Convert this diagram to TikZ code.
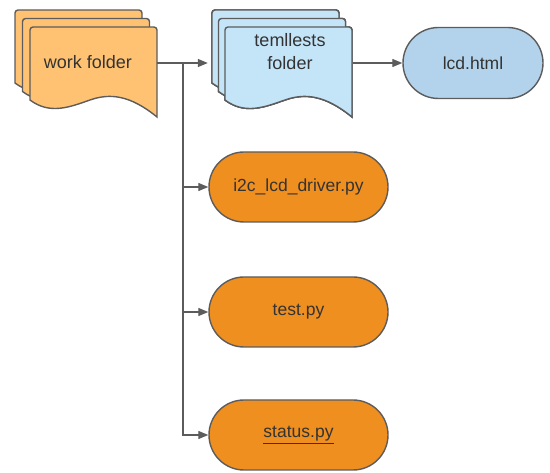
\documentclass[tikz,border=0pt]{standalone}
\usepackage{fontspec}
\setmainfont{Liberation Sans}
\usetikzlibrary{arrows.meta, shapes.misc}

\definecolor{edgegray}{HTML}{5C5C5C}
\definecolor{textgray}{HTML}{333333}
\definecolor{workfill}{HTML}{FFC272}
\definecolor{tmplfill}{HTML}{C4E4F8}
\definecolor{htmlfill}{HTML}{B3D3EC}
\definecolor{pyfill}{HTML}{EF8F1F}

\tikzset{
  sheet/.style={draw=edgegray, line width=1.4pt},
  stack/.style={minimum width=141pt, minimum height=90pt, inner sep=0pt},
  label text/.style={text=textgray, font=\fontsize{18}{23}\selectfont, align=center},
  pill/.style={rounded rectangle, draw=edgegray, line width=1.4pt, fill=pyfill,
    minimum width=179pt, minimum height=70pt, inner sep=0pt, text=textgray,
    font=\fontsize{17.5}{22}\selectfont},
  conn/.style={draw=edgegray, line width=1.3pt, -{Triangle[length=10pt, width=8pt]}}
}

% one document sheet with wavy bottom, top-left corner at (0,0)
\newcommand{\docsheet}[1]{%
  \draw[sheet, fill=#1] (0,73) [rounded corners=3pt] -- (0,0) -- (127,0) -- (127,45)
    [sharp corners] -- (127,90) .. controls (100,68) and (80,66) .. (60,73)
    .. controls (40,80) and (20,88) .. (0,73) -- cycle;
}
% stack of three sheets, #1/#2 front sheet corner, #3 x step, #4 fill
\newcommand{\sheetstack}[4]{%
  \foreach \d in {2,1,0}
    \begin{scope}[shift={(#1-\d*#3,#2-\d*8.5)}]
      \docsheet{#4}
    \end{scope}
}

\begin{document}
\begin{tikzpicture}[x=1pt, y=-1pt]
  \useasboundingbox (0,0) rectangle (550,473);

  % folders
  \sheetstack{30}{27}{7.5}{workfill}
  \sheetstack{225}{27}{6.5}{tmplfill}
  \node[stack] (work) at (86,63) {};
  \node[stack] (tmpl) at (282.5,63) {};
  \node[label text] (worktext) at (88,62) {work folder};
  \node[label text] (tmpltext) at (290,52) {temllests\\folder};

  % files
  \node[pill, fill=htmlfill, minimum width=140pt, minimum height=71pt] (lcd) at (473,63) {lcd.html};
  \node[pill] (driver) at (298.5,187) {i2c\_lcd\_driver.py};
  \node[pill] (test) at (298.5,312) {test.py};
  \node[pill] (status) at (298.5,435) {\underline{status.py}};

  % connectors
  \coordinate (split) at (183,63);
  \draw[conn, shorten >=4pt] (work.east) -- (tmpl.west);
  \draw[conn] (tmpl.east) -- (lcd.west);
  \draw[conn] (split) |- (driver.west);
  \draw[conn] (split) |- (test.west);
  \draw[conn] (split) |- (status.west);
\end{tikzpicture}
\end{document}
